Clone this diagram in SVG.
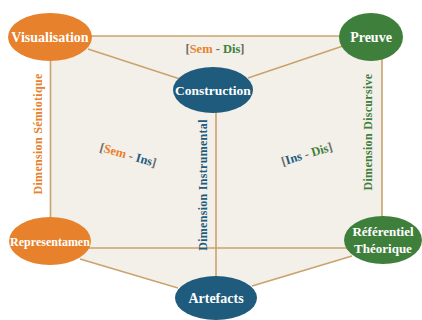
<svg xmlns="http://www.w3.org/2000/svg" width="422" height="320" viewBox="0 0 422 320">
<style>
.ln{stroke:#c9a36b;stroke-width:1.6;fill:none}
.nt{font-family:"Liberation Serif",serif;font-weight:bold;fill:#ffffff;text-anchor:middle}
.lb{font-family:"Liberation Serif",serif;font-weight:bold;font-size:12.5px;text-anchor:middle}
.dm{font-family:"Liberation Serif",serif;font-weight:bold;font-size:12px;text-anchor:middle;letter-spacing:0.3px}
.or{fill:#e8812b}.bl{fill:#1e5b7c}.gr{fill:#3f7f3c}.gy{fill:#6b6b6b}
</style>
<rect width="422" height="320" fill="#ffffff"/>
<polygon points="50,36 382,36 382,247 216,298 50,250" fill="#f3f0ea"/>
<g id="connectors">
<line class="ln" x1="50" y1="36" x2="382" y2="36"/>
<line class="ln" x1="50.5" y1="36" x2="50.5" y2="241"/>
<line class="ln" x1="382" y1="36" x2="382" y2="240"/>
<line class="ln" x1="50" y1="248" x2="382" y2="248"/>
<line class="ln" x1="216" y1="90" x2="216" y2="298"/>
<line class="ln" x1="88" y1="49" x2="180" y2="79"/>
<line class="ln" x1="343" y1="46" x2="248" y2="78"/>
<line class="ln" x1="80" y1="259" x2="178" y2="288"/>
<line class="ln" x1="352" y1="256" x2="252" y2="286"/>
</g>
<g id="label-sem-dis"><text class="lb" x="215" y="53"><tspan class="gy">[</tspan><tspan class="or">Sem</tspan><tspan class="gy"> - </tspan><tspan class="gr">Dis</tspan><tspan class="gy">]</tspan></text></g>
<g id="label-sem-ins"><text class="lb" transform="translate(127,159) rotate(16)"><tspan class="gy">[</tspan><tspan class="or">Sem</tspan><tspan class="gy"> - </tspan><tspan class="bl">Ins</tspan><tspan class="gy">]</tspan></text></g>
<g id="label-ins-dis"><text class="lb" transform="translate(308,158) rotate(-17)"><tspan class="gy">[</tspan><tspan class="bl">Ins</tspan><tspan class="gy"> - </tspan><tspan class="gr">Dis</tspan><tspan class="gy">]</tspan></text></g>
<g id="dim-semiotique"><text class="dm or" transform="translate(42,134) rotate(-90)">Dimension Sémiotique</text></g>
<g id="dim-discursive"><text class="dm gr" transform="translate(372,132) rotate(-90)">Dimension Discursive</text></g>
<g id="dim-instrumental"><text class="dm bl" transform="translate(207,185) rotate(-90)">Dimension Instrumental</text></g>
<g id="visualisation"><ellipse cx="50" cy="37" rx="42" ry="24" fill="#e8812b"/><text class="nt" x="50" y="42" font-size="14">Visualisation</text></g>
<g id="preuve"><ellipse cx="371" cy="37" rx="32" ry="24" fill="#3f7f3c"/><text class="nt" x="371" y="42" font-size="14">Preuve</text></g>
<g id="construction"><ellipse cx="213" cy="90" rx="40" ry="23" fill="#1e5b7c"/><text class="nt" x="213" y="95" font-size="13.5">Construction</text></g>
<g id="representamen"><ellipse cx="50" cy="241" rx="41" ry="24" fill="#e8812b"/><text class="nt" x="50" y="245.5" font-size="12">Representamen</text></g>
<g id="referentiel"><ellipse cx="383" cy="240" rx="39" ry="24" fill="#3f7f3c"/><text class="nt" x="383" y="236" font-size="13">Référentiel</text><text class="nt" x="383" y="253" font-size="13">Théorique</text></g>
<g id="artefacts"><ellipse cx="216" cy="298" rx="41" ry="22" fill="#1e5b7c"/><text class="nt" x="216" y="303" font-size="14">Artefacts</text></g>
</svg>
